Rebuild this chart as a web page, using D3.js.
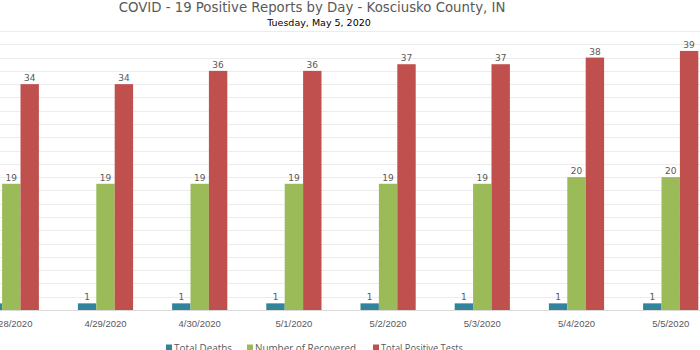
<!DOCTYPE html>
<html>
<head>
  <meta charset="utf-8" />
  <title>COVID-19 Kosciusko</title>
  <style>
    body { margin: 0; background: #fff; }
    svg { display: block; font-family: "DejaVu Sans", sans-serif; }
    .grid line { stroke: #ececec; stroke-width: 1px; }
    .lbl { fill: #595959; font-size: 9px; }
    .xlbl { fill: #595959; font-size: 9.5px; }
    .legtxt { font-family: "Open Sans", sans-serif; }
  </style>
  <script src="https://cdnjs.cloudflare.com/ajax/libs/d3/7.8.5/d3.min.js"></script>
</head>
<body>
  <div id="chartArea"></div>
  <script>
    var dates = ['4/28/2020', '4/29/2020', '4/30/2020', '5/1/2020', '5/2/2020', '5/3/2020', '5/4/2020', '5/5/2020'];
    var seriesNames = ['Total Deaths', 'Number of Recovered', 'Total Positive Tests'];
    var deaths = [1, 1, 1, 1, 1, 1, 1, 1];
    var recovered = [19, 19, 19, 19, 19, 19, 20, 20];
    var positive = [34, 34, 36, 36, 37, 37, 38, 39];
    var colors = ['#31849b', '#9bbb59', '#c0504d'];

    var W = 700, H = 350;
    var series = [deaths, recovered, positive];

    var svg = d3.select('#chartArea')
      .append('svg')
      .attr('width', W)
      .attr('height', H);

    // plot is wider than the window, cut off on both sides like the original
    var x = d3.scaleBand()
      .domain(dates)
      .range([-35.8, 717.8]);

    var xIn = d3.scaleBand()
      .domain(seriesNames)
      .range([x.bandwidth() / 2 - 27.6, x.bandwidth() / 2 + 27.6]);

    var y = d3.scaleLinear()
      .domain([0, 42])
      .range([310, 31]);

    svg.append('g')
      .attr('class', 'grid')
      .selectAll('line')
      .data(d3.range(2, 43, 2))
      .enter().append('line')
      .attr('x1', 0).attr('x2', W)
      .attr('y1', d => Math.round(y(d)) + 0.5)
      .attr('y2', d => Math.round(y(d)) + 0.5);

    svg.append('line')
      .attr('x1', 0).attr('x2', W)
      .attr('y1', y(0) + 0.5).attr('y2', y(0) + 0.5)
      .attr('stroke', '#d9d9d9');

    var groups = svg.selectAll('.day')
      .data(dates)
      .enter().append('g')
      .attr('transform', d => 'translate(' + x(d) + ',0)');

    groups.each(function (d, i) {
      var g = d3.select(this);
      series.forEach((vals, s) => {
        var v = vals[i];
        g.append('rect')
          .attr('x', xIn(seriesNames[s]))
          .attr('width', xIn.bandwidth())
          .attr('y', y(v))
          .attr('height', y(0) - y(v))
          .attr('fill', colors[s]);
        g.append('text')
          .attr('class', 'lbl')
          .attr('x', xIn(seriesNames[s]) + xIn.bandwidth() / 2)
          .attr('y', y(v) - 3)
          .attr('text-anchor', 'middle')
          .text(v);
      });
    });

    var xAxis = svg.append('g')
      .attr('transform', 'translate(0,310)')
      .call(d3.axisBottom(x).tickSize(0).tickPadding(10));
    xAxis.select('.domain').remove();
    xAxis.selectAll('text')
      .attr('class', 'xlbl')
      .attr('font-family', null)
      .attr('font-size', null);

    svg.append('text')
      .attr('x', 312).attr('y', 12)
      .attr('text-anchor', 'middle')
      .attr('fill', '#595959')
      .attr('font-size', '13.3px')
      .text('COVID - 19 Positive Reports by Day - Kosciusko County, IN');

    svg.append('text')
      .attr('x', 319).attr('y', 26)
      .attr('text-anchor', 'middle')
      .attr('fill', '#000')
      .attr('font-size', '9.5px')
      .text('Tuesday, May 5, 2020');

    // legend
    var legendX = [166, 247, 373];
    var legendW = [58, 101, 82];
    var legend = svg.selectAll('.leg')
      .data(seriesNames)
      .enter().append('g')
      .attr('transform', (d, i) => 'translate(' + legendX[i] + ',343.5)');
    legend.append('rect')
      .attr('y', 1)
      .attr('width', 6).attr('height', 6)
      .attr('fill', (d, i) => colors[i]);
    legend.append('text')
      .attr('class', 'legtxt')
      .attr('x', 8).attr('y', 8.5)
      .attr('fill', '#595959')
      .attr('font-size', '11px')
      .attr('textLength', (d, i) => legendW[i])
      .attr('lengthAdjust', 'spacingAndGlyphs')
      .text(d => d);
  </script>
</body>
</html>
